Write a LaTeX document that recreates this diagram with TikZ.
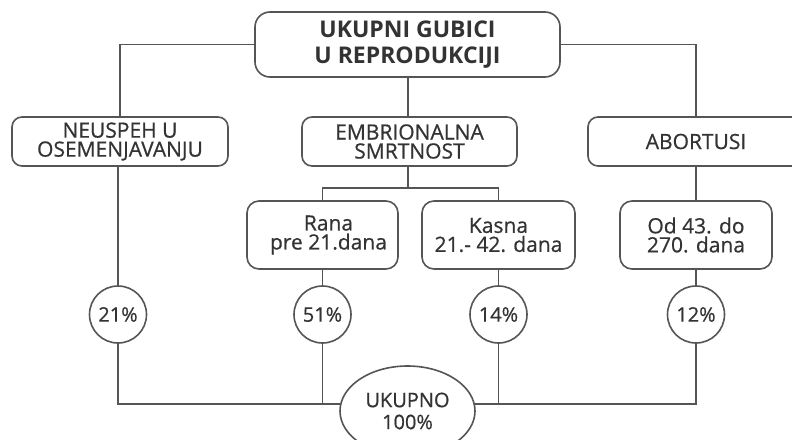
\documentclass[tikz,border=0pt]{standalone}
\usepackage{fontspec}
\setmainfont{Open Sans}[UprightFeatures={FakeBold=0.6}]
\usetikzlibrary{shapes.geometric}
\definecolor{ln}{HTML}{555555}
\definecolor{tx}{HTML}{333333}
\begin{document}
\begin{tikzpicture}[x=1pt,y=-1pt,
  every node/.style={text=tx, font=\fontsize{21}{19}\selectfont, align=center, inner sep=0pt},
  box/.style={draw=ln, line width=1.6pt, rounded corners=10pt, minimum width=#1, minimum height=49pt},
  subbox/.style={draw=ln, line width=1.6pt, rounded corners=12pt, minimum width=#1, minimum height=68pt},
  pc/.style={draw=ln, line width=1.6pt, circle, minimum size=57pt, font=\fontsize{20}{22}\selectfont},
  ell/.style={draw=ln, line width=1.6pt, ellipse, minimum width=135pt, minimum height=90pt, font=\fontsize{20}{22}\selectfont},
  conn/.style={draw=ln, line width=1.6pt}]
\clip (0,0) rectangle (792,439);
\fill[white] (0,0) rectangle (792,439);
\node[box=305pt, minimum height=65pt, rounded corners=15pt, font=\bfseries\fontsize{23}{26}\selectfont] (top) at (407.5,44.5) {UKUPNI GUBICI\\U REPRODUKCIJI};
\node[box=216pt] (neu) at (120,141.5) {NEUSPEH U\\OSEMENJAVANJU};
\node[box=215pt] (emb) at (409.5,141.5) {EMBRIONALNA\\SMRTNOST};
\node[box=216pt] (abo) at (696,141.5) {ABORTUSI};
\node[subbox=151pt] (rana) at (322.5,235) {\hspace*{12pt}Rana\\\hspace*{12pt}pre 21.dana};
\node[subbox=153pt] (kasna) at (498.5,235) {Kasna\\21.- 42. dana};
\node[subbox=152pt] (od) at (696,235) {Od 43. do\\270. dana};
\node[pc] (p1) at (118,314.5) {21\%};
\node[pc] (p2) at (322.5,314.5) {51\%};
\node[pc] (p3) at (498.5,314.5) {14\%};
\node[pc] (p4) at (696,314.5) {12\%};
\node[ell] (uk) at (407.5,411) {UKUPNO\\100\%};
\coordinate (j) at (408,188);
\draw[conn] (top.west) -| (neu.north);
\draw[conn] (top.east) -| (abo.north);
\draw[conn] (top.south -| j) -- (emb.north -| j);
\draw[conn] (emb.south -| j) -- (j);
\draw[conn] (rana.north) |- (j) -| (kasna.north);
\draw[conn] (abo.south) -- (od.north);
\draw[conn] (neu.south -| p1) -- (p1.north);
\draw[conn] (rana.south) -- (p2.north);
\draw[conn] (kasna.south) -- (p3.north);
\draw[conn] (od.south) -- (p4.north);
\draw[conn] (p1.south) |- (uk.174);
\draw[conn] (p2.south) -- (p2.south |- uk.174);
\draw[conn] (p4.south) |- (uk.6);
\draw[conn] (p3.south) -- (p3.south |- uk.6);
\end{tikzpicture}
\end{document}
